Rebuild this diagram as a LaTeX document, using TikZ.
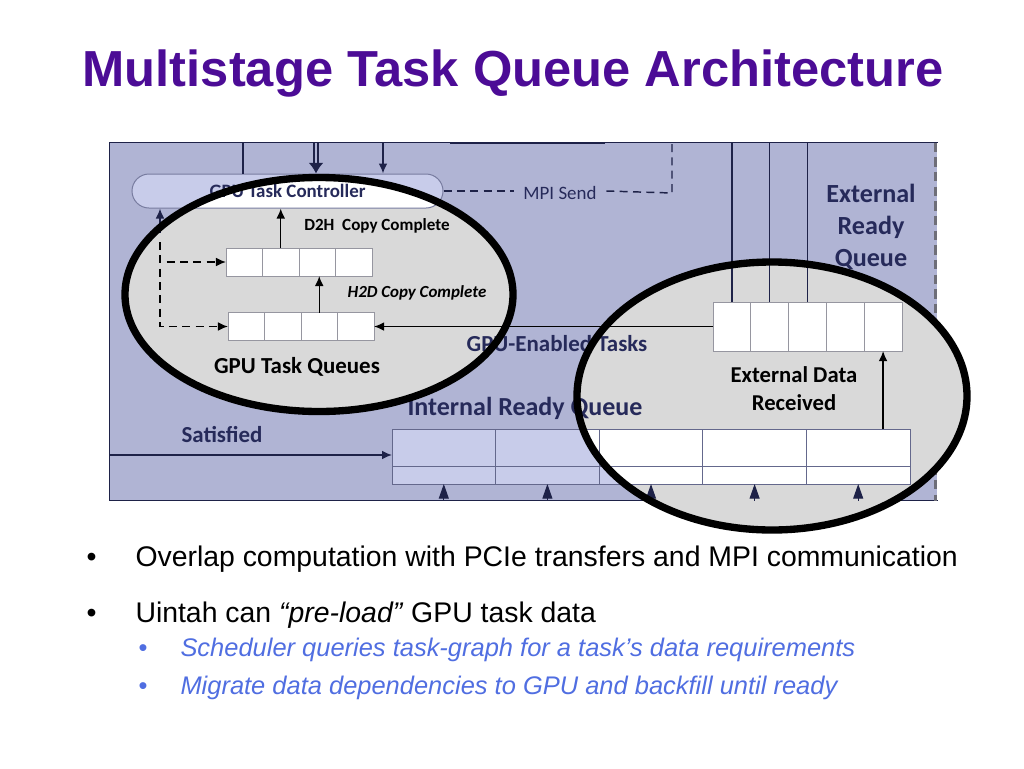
\documentclass[tikz,border=0pt]{standalone}
\usepackage{fontspec}
\setmainfont{Liberation Sans}
\newfontfamily\calib{Carlito}
\usetikzlibrary{arrows.meta,positioning}

\definecolor{titlepurple}{RGB}{76,12,150}
\definecolor{panelblue}{RGB}{176,180,212}
\definecolor{lavender}{RGB}{200,204,234}
\definecolor{navy}{RGB}{30,34,72}
\definecolor{navytext}{RGB}{38,42,90}
\definecolor{lensgray}{RGB}{217,217,217}
\definecolor{cellgray}{RGB}{150,150,160}
\definecolor{edgegray}{RGB}{110,110,120}
\definecolor{subblue}{RGB}{80,110,225}

\newcommand\lensL{(lensL) ellipse [x radius=145.5pt, y radius=87.75pt]}
\newcommand\lensR{(lensR) ellipse [x radius=146.25pt, y radius=100.5pt]}

\tikzset{every picture/.style={line width=0.75pt}}
\tikzset{
	slidetitle/.style={font=\bfseries\fontsize{38}{44}\selectfont, text=titlepurple, inner sep=0pt},
	bulletline/.style={font=\fontsize{21.3}{25}\selectfont, anchor=base west, inner sep=0pt},
	subline/.style={font=\itshape\fontsize{19.1}{23}\selectfont, text=subblue, anchor=base west, inner sep=0pt},
	panel/.style={fill=panelblue, minimum width=620.25pt, minimum height=267.75pt, inner sep=0pt},
	ctrlbox/.style={draw={rgb,255:red,120;green,124;blue,160}, fill=lavender, rounded corners=12.75pt, minimum width=233.25pt, minimum height=25.5pt, inner sep=0pt, font=\calib\bfseries\fontsize{14.2}{16}\selectfont, text=navytext},
	gcell/.style={draw=cellgray, fill=white, line width=0.6pt, minimum width=27.4pt, minimum height=21pt, inner sep=0pt, outer sep=0pt},
	ecell/.style={draw=cellgray, fill=white, line width=0.6pt, minimum width=28.35pt, minimum height=36.75pt, inner sep=0pt, outer sep=0pt},
	icell/.style={draw={rgb,255:red,100;green,104;blue,140}, fill=lavender, line width=0.6pt, minimum width=77.7pt, inner sep=0pt, outer sep=0pt, path picture={\fill[white] \lensR;}},
	lbl/.style={font=\calib\bfseries\fontsize{17.2}{21}\selectfont, text=navytext, inner sep=0pt},
	biglbl/.style={font=\calib\bfseries\fontsize{19.6}{24}\selectfont, text=navytext, inner sep=0pt, align=center},
	smalllbl/.style={font=\calib\bfseries\fontsize{12.8}{15}\selectfont, text=black, inner sep=0pt},
	link/.style={navy, line width=1.1pt, -{Latex[length=7.5pt,width=6.5pt]}},
	feedlink/.style={navy, line width=0.8pt, -{Triangle[length=11pt,width=7.5pt]}},
	dashlink/.style={black, line width=1.1pt, dash pattern=on 6pt off 4pt},
	lens/.style={black, line width=5.5pt}
}

\begin{document}
\begin{tikzpicture}[x=0.75pt,y=0.75pt,yscale=-1,xscale=1]
	\useasboundingbox (0,0) rectangle (1024,768);

	% Title
	\node[slidetitle] (ttl) at (513,74) {Multistage Task Queue Architecture};

	%Shape: Rectangle
	\node[panel] (frame) at (523.5,321.5) {};
	\draw[navy, line width=1.4pt] (frame.north east) -- (frame.north west) -- (frame.south west) -- (frame.south east);
	\draw[edgegray, line width=2.2pt, dash pattern=on 7pt off 4pt] ([xshift=-1.5pt]frame.north east) -- ([xshift=-1.5pt]frame.south east);
	\draw[navy, line width=1.6pt] (450,143) -- (605,143);

	%Shape: Ellipse
	\coordinate (lensL) at (319,294.5);
	\coordinate (lensR) at (772,396);
	\fill[lensgray] \lensL;
	\fill[lensgray] \lensR;

	%Shape: Rounded Rectangle
	\node[ctrlbox, path picture={\fill[white] \lensL;}] (ctrl) at (287.5,191) {GPU Task Controller};

	% lines from the top
	\coordinate (t1) at (243,143);
	\coordinate (t2) at (316,143);
	\coordinate (t3) at (383,143);
	\draw[navy, line width=1pt] (t1) -- (t1 |- ctrl.north);
	\draw[navy, line width=0.9pt, double=panelblue, double distance=2.2pt, -{Latex[length=8pt,width=11pt]}] (t2) -- (t2 |- ctrl.north);
	\draw[link] (t3) -- (t3 |- ctrl.north);

	% MPI send
	\node[font=\calib\fontsize{14.2}{16}\selectfont, text=navytext, inner sep=7pt] (mpi) at (560,193) {MPI Send};
	\coordinate (mpicorner) at (672,193);
	\draw[dashlink, navy] (ctrl.east) -- (ctrl.east -| mpi.west);
	\draw[dashlink, navy] (mpi.east |- ctrl.east) -- (mpicorner) -- (mpicorner |- frame.north);

	% GPU task queues
	\foreach \i in {0,...,3}{
		\node[gcell] (uq\i) at (244.25+\i*36.5,262) {};
		\node[gcell] (lq\i) at (246.25+\i*36.5,326.5) {};
	}
	\draw[link, black] (uq1.north) -- (uq1.north |- ctrl.south);
	\draw[link, black] (lq2.north) -- (lq2.north |- uq0.south);
	\node[smalllbl] (d2h) at (377,226) {D2H\ \ Copy Complete};
	\node[smalllbl, font=\calib\bfseries\itshape\fontsize{12.7}{15}\selectfont] (h2d) at (417,293) {H2D Copy Complete};
	\node[lbl, text=black] (gtq) at (297,367) {GPU Task Queues};

	% dashed feedback
	\coordinate (cup) at (160,233);
	\coordinate (dtop) at (160,242);
	\draw[link] (cup) -- (cup |- ctrl.south);
	\draw[dashlink, -{Latex[length=7.5pt,width=6.5pt]}] (dtop) |- (uq0.west);
	\draw[dashlink, -{Latex[length=7.5pt,width=6.5pt]}] (dtop) |- (lq0.west);

	% external ready queue
	\foreach \i in {0,...,4}
		\node[ecell] (eq\i) at (731.9+\i*37.8,326.5) {};
	\foreach \i in {0,...,2}
		\draw[navy, line width=1pt] (eq\i.north) -- (eq\i.north |- frame.north);
	\node[biglbl] (erq) at (871,227) {External\\Ready\\Queue};
	\node[lbl, text=black, align=center, font=\calib\bfseries\fontsize{17}{21}\selectfont] (edr) at (794,389) {External Data\\Received};
	\draw[link, black] (eq0.west) -- (lq3.east);
	\node[lbl] (gpuen) at (557,344) {GPU-Enabled Tasks};

	% internal ready queue
	\foreach \i in {0,...,4}{
		\node[icell, minimum height=27.75pt] (irq\i) at (443.8+\i*103.6,447.5) {};
		\node[icell, minimum height=13.5pt] (irqb\i) at (443.8+\i*103.6,475) {};
		\draw[feedlink] (irqb\i.south |- frame.south) -- (irqb\i.south);
	}
	\node[biglbl, font=\calib\bfseries\fontsize{19.5}{24}\selectfont] (irql) at (525,408) {Internal Ready Queue};
	\draw[link, black] (eq4.south |- irq4.north) -- (eq4.south);
	\coordinate (sat) at (392,455);
	\draw[link] (sat -| frame.west) -- (sat);
	\node[lbl] (satl) at (222,435) {Satisfied};

	%Shape: Ellipse (outlines)
	\draw[lens] \lensL;
	\draw[lens] \lensR;

	% Text Node
	\node[bulletline] (b1) at (86,566) {•};
	\node[bulletline] (b1t) at (135,566) {Overlap computation with PCIe transfers and MPI communication};
	\node[bulletline] (b2) at (86,622) {•};
	\node[bulletline] (b2t) at (135,622) {Uintah can \textit{“pre-load”} GPU task data};
	\node[subline, font=\fontsize{19.1}{23}\selectfont] (s1) at (138,656) {•};
	\node[subline] (s1t) at (180,656) {Scheduler queries task-graph for a task’s data requirements};
	\node[subline, font=\fontsize{19.1}{23}\selectfont] (s2) at (138,694) {•};
	\node[subline] (s2t) at (180,694) {Migrate data dependencies to GPU and backfill until ready};
\end{tikzpicture}
\end{document}
